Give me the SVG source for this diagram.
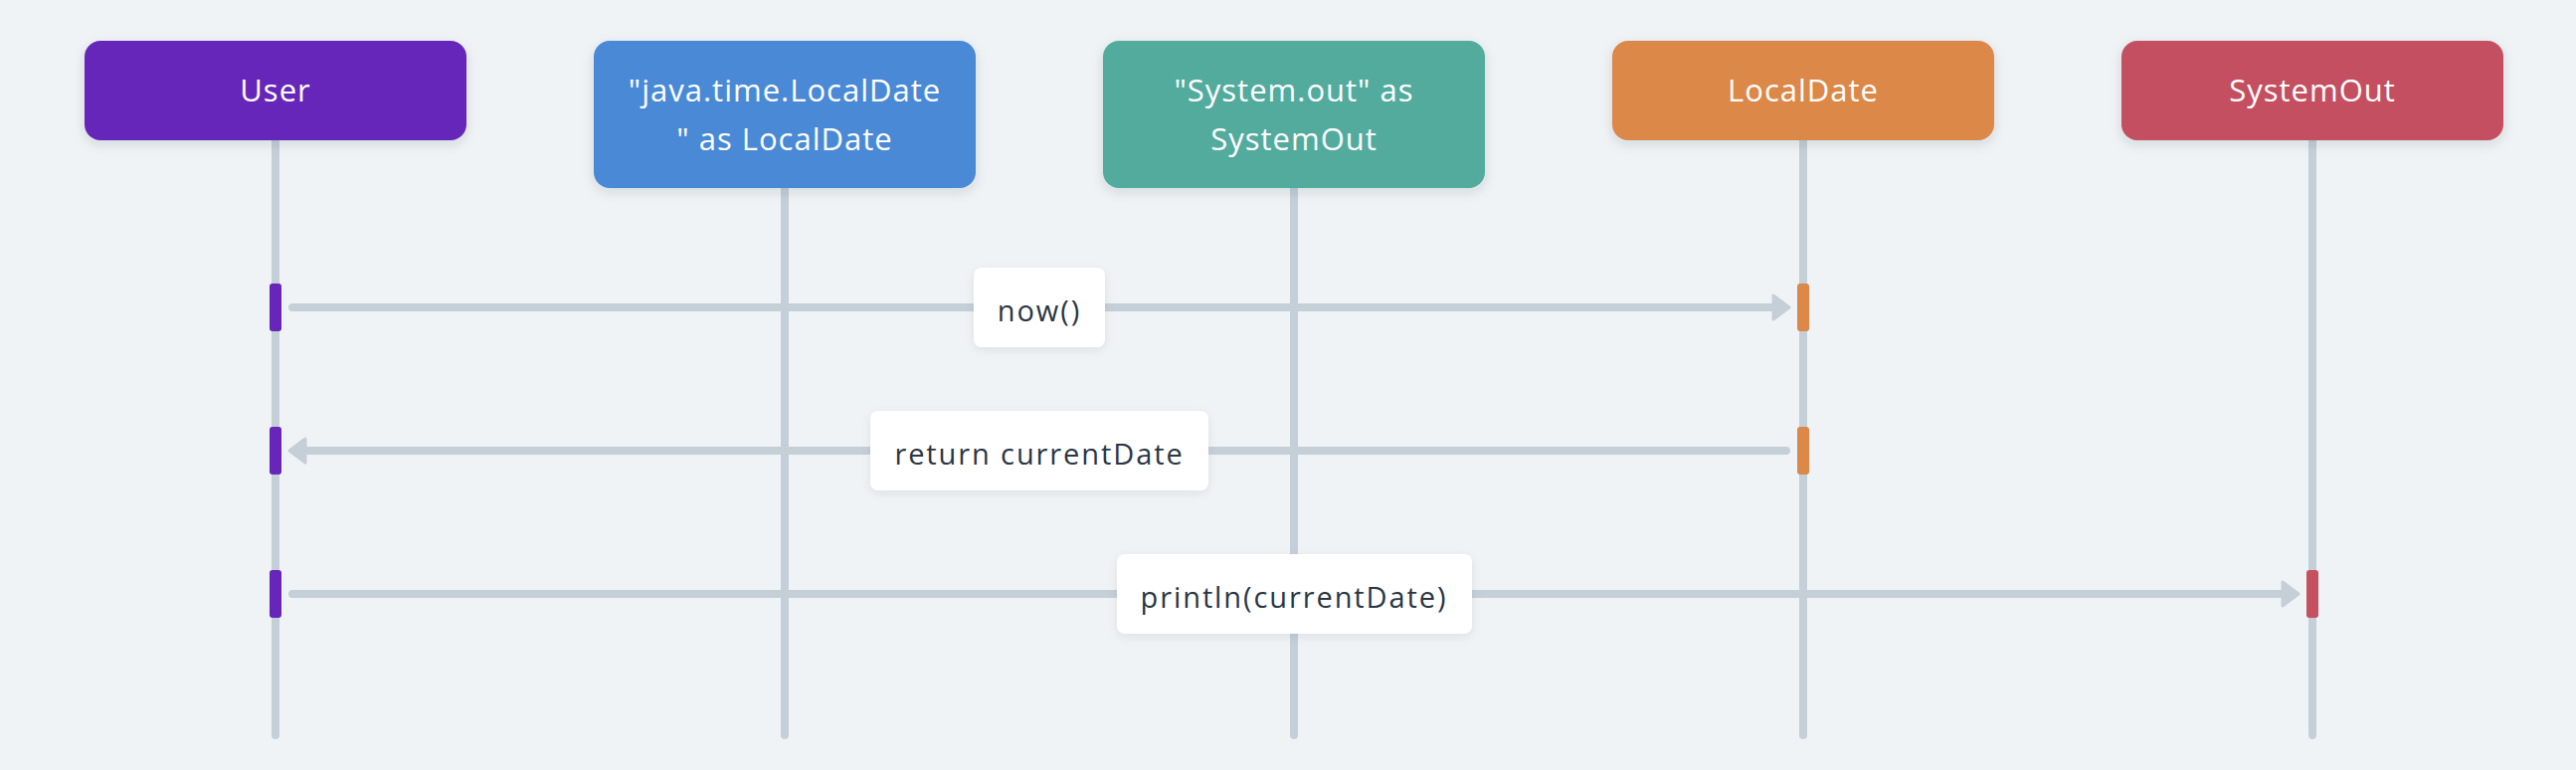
<svg xmlns="http://www.w3.org/2000/svg" width="2590" height="774" viewBox="0 0 2590 774">
  <defs>
    <filter id="shadow" x="-10%" y="-20%" width="120%" height="150%">
      <feDropShadow dx="0" dy="4" stdDeviation="6" flood-color="#1e2a3a" flood-opacity="0.13"/>
    </filter>
    <filter id="lshadow" x="-10%" y="-20%" width="120%" height="150%">
      <feDropShadow dx="0" dy="3" stdDeviation="5" flood-color="#1e2a3a" flood-opacity="0.08"/>
    </filter>
    <style>
      .node-text { font-family: "Open Sans", "Liberation Sans", sans-serif; font-size: 31px; font-weight: 500; fill: #ffffff; text-anchor: middle; letter-spacing: 1px; }
      .lifeline { stroke: #c5cfd8; stroke-width: 8; stroke-linecap: round; fill: none; }
      .msg { stroke: #c5cfd8; stroke-width: 8; stroke-linecap: round; fill: none; }
      .head { fill: #c5cfd8; stroke: #c5cfd8; stroke-width: 3; stroke-linejoin: round; }
      .label-box { fill: #ffffff; filter: url(#lshadow); }
      .label-text { font-family: "Open Sans", "Liberation Sans", sans-serif; font-size: 29px; font-weight: 500; fill: #2b3644; text-anchor: middle; letter-spacing: 1.9px; }
      .box { filter: url(#shadow); }
    </style>
  </defs>
  <rect x="0" y="0" width="2590" height="774" fill="#eff3f6"/>

  <g id="lifelines">
    <line class="lifeline" x1="277" y1="141" x2="277" y2="739"/>
    <line class="lifeline" x1="789" y1="189" x2="789" y2="739"/>
    <line class="lifeline" x1="1301" y1="189" x2="1301" y2="739"/>
    <line class="lifeline" x1="1813" y1="141" x2="1813" y2="739"/>
    <line class="lifeline" x1="2325" y1="141" x2="2325" y2="739"/>
  </g>

  <g id="node-User">
    <rect class="box" x="85" y="41" width="384" height="100" rx="16" fill="#6626ba"/>
    <text class="node-text" x="277" y="102">User</text>
  </g>
  <g id="node-JavaLocalDate">
    <rect class="box" x="597" y="41" width="384" height="148" rx="16" fill="#4889d6"/>
    <text class="node-text" x="789" y="102">"java.time.LocalDate</text>
    <text class="node-text" x="789" y="151">" as LocalDate</text>
  </g>
  <g id="node-SystemOutAlias">
    <rect class="box" x="1109" y="41" width="384" height="148" rx="16" fill="#52ab9e"/>
    <text class="node-text" x="1301" y="102">"System.out" as</text>
    <text class="node-text" x="1301" y="151">SystemOut</text>
  </g>
  <g id="node-LocalDate">
    <rect class="box" x="1621" y="41" width="384" height="100" rx="16" fill="#db8849"/>
    <text class="node-text" x="1813" y="102">LocalDate</text>
  </g>
  <g id="node-SystemOut">
    <rect class="box" x="2133" y="41" width="384" height="100" rx="16" fill="#c45060"/>
    <text class="node-text" x="2325" y="102">SystemOut</text>
  </g>

  <g id="activations">
    <rect x="271" y="285" width="12" height="48" rx="3" fill="#6626ba"/>
    <rect x="1807" y="285" width="12" height="48" rx="3" fill="#db8849"/>
    <rect x="271" y="429" width="12" height="48" rx="3" fill="#6626ba"/>
    <rect x="1807" y="429" width="12" height="48" rx="3" fill="#db8849"/>
    <rect x="271" y="573" width="12" height="48" rx="3" fill="#6626ba"/>
    <rect x="2319" y="573" width="12" height="48" rx="3" fill="#c45060"/>
  </g>

  <g id="connectors">
    <g id="msg-now">
      <line class="msg" x1="294" y1="309" x2="1786" y2="309"/>
      <path class="head" d="M1783,297 L1799,309 L1783,321 Z"/>
      <rect class="label-box" x="979" y="269" width="132" height="80" rx="8"/>
      <text class="label-text" x="1045" y="322.5">now()</text>
    </g>
    <g id="msg-return">
      <line class="msg" x1="1796" y1="453" x2="304" y2="453"/>
      <path class="head" d="M307,441 L291,453 L307,465 Z"/>
      <rect class="label-box" x="875" y="413" width="340" height="80" rx="8"/>
      <text class="label-text" x="1045" y="466.5">return currentDate</text>
    </g>
    <g id="msg-println">
      <line class="msg" x1="294" y1="597" x2="2298" y2="597"/>
      <path class="head" d="M2295,585 L2311,597 L2295,609 Z"/>
      <rect class="label-box" x="1123" y="557" width="357" height="80" rx="8"/>
      <text class="label-text" x="1301" y="610.5">println(currentDate)</text>
    </g>
  </g>
</svg>
